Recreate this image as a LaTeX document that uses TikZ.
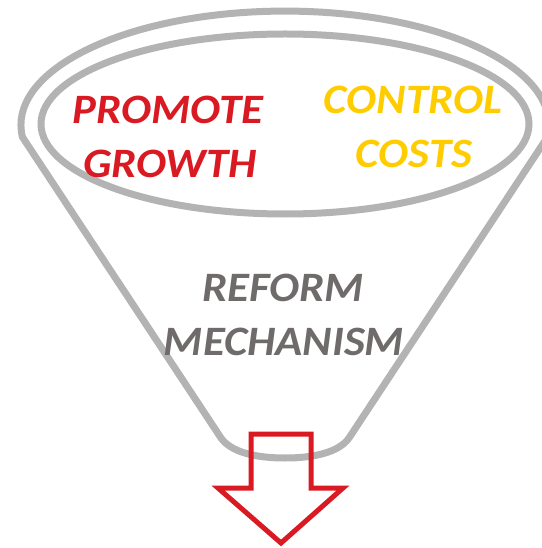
\documentclass[tikz,border=0pt]{standalone}
\usepackage{fontspec}
\setmainfont{Carlito}[FakeStretch=1.07]
\usetikzlibrary{positioning}
\definecolor{funnelgray}{RGB}{179,179,179}
\definecolor{growthred}{RGB}{218,26,34}
\definecolor{costgold}{RGB}{255,204,0}
\definecolor{reformgray}{RGB}{112,107,107}
\tikzstyle{rim}=[draw=funnelgray, line width=7bp, line join=round]
\tikzstyle{goal}=[font=\fontsize{42}{50}\selectfont\bfseries\itshape, anchor=base, inner sep=0pt]
\tikzstyle{outlet}=[draw=growthred, line width=5bp, line join=miter]

\begin{document}
\begin{tikzpicture}[x=1bp, y=-1bp]
    \useasboundingbox (0,0) rectangle (542,548);
    \clip (0,0) rectangle (542,548);

    % funnel body and rim
    \draw[rim] (22.4,137) arc[start angle=174, end angle=366, x radius=264, y radius=114]
        -- (349,438) .. controls (339,452) and (315,458) .. (285,458)
        .. controls (255,458) and (231,452) .. (221,438) -- cycle;
    \draw[rim] (285,124) ellipse [x radius=244, y radius=90];

    \node (promote) [goal, text=growthred] at (168,124) {PROMOTE};
    \node (growth) [goal, text=growthred] at (170,178) {GROWTH};

    \node (control) [goal, text=costgold] at (413,114) {CONTROL};
    \node (costs) [goal, text=costgold] at (414,168) {COSTS};

    \node (reform) [goal, text=reformgray] at (283,301) {REFORM};
    \node (mechanism) [goal, text=reformgray] at (284,355) {MECHANISM};

    % outlet arrow
    \draw[outlet] (251,434) -- (311,434) -- (311,488) -- (343,488) -- (281,543)
        -- (218,488) -- (251,488) -- cycle;

\end{tikzpicture}
\end{document}
